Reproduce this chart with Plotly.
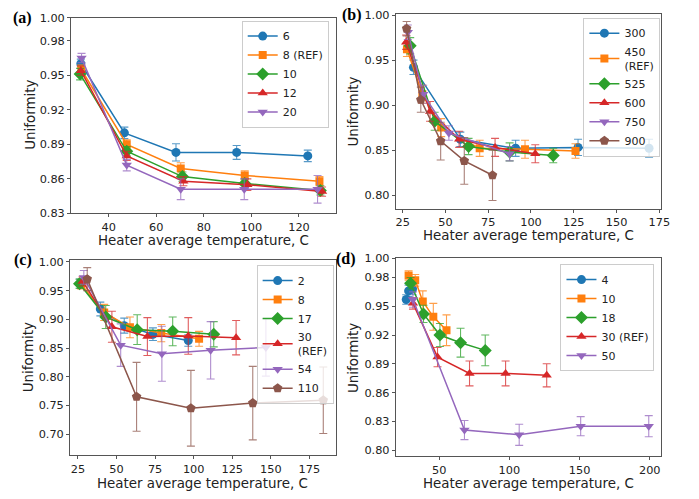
import plotly.graph_objects as go

# ---------------- Data ----------------
# Panel (a)
a_names = ["6", "8 (REF)", "10", "12", "20"]
a_x = [
    [28.3, 46.6, 68.3, 93.8, 123.7],
    [28.5, 47.6, 70.3, 97.2, 128.6],
    [28.0, 47.6, 71.0, 97.2, 129.0],
    [28.3, 47.6, 71.4, 98.3, 129.7],
    [28.6, 47.6, 70.3, 97.0, 127.8],
]
a_y = [
    [0.960, 0.900, 0.883, 0.883, 0.880],
    [0.955, 0.890, 0.869, 0.863, 0.858],
    [0.951, 0.884, 0.862, 0.856, 0.850],
    [0.954, 0.880, 0.858, 0.855, 0.849],
    [0.965, 0.872, 0.851, 0.851, 0.851],
]
a_e = [
    [0.004, 0.005, 0.0075, 0.006, 0.005],
    [0.004, 0.004, 0.005, 0.004, 0.004],
    [0.005, 0.004, 0.004, 0.004, 0.004],
    [0.004, 0.004, 0.004, 0.005, 0.004],
    [0.004, 0.005, 0.009, 0.009, 0.012],
]

# Panel (b)
b_names = ["300", "450<br>(REF)", "525", "600", "750", "900"]
b_x = [
    [31.3, 58.7, 91.0, 127.5, 169.0],
    [27.5, 36.5, 47.5, 70.0, 96.5, 126.0],
    [29.4, 43.7, 63.5, 87.5, 113.0],
    [27.0, 41.0, 58.0, 79.0, 102.5],
    [28.0, 37.0, 52.0, 87.5],
    [27.3, 35.6, 47.2, 61.0, 77.5],
]
b_y = [
    [0.942, 0.862, 0.852, 0.853, 0.852],
    [0.962, 0.912, 0.875, 0.852, 0.851, 0.849],
    [0.966, 0.882, 0.854, 0.848, 0.844],
    [0.970, 0.893, 0.862, 0.853, 0.846],
    [0.981, 0.912, 0.869, 0.846],
    [0.985, 0.906, 0.860, 0.838, 0.822],
]
b_e = [
    [0.008, 0.008, 0.009, 0.009, 0.010],
    [0.008, 0.010, 0.010, 0.009, 0.010, 0.008],
    [0.009, 0.010, 0.009, 0.010, 0.008],
    [0.008, 0.011, 0.009, 0.010, 0.010],
    [0.008, 0.010, 0.008, 0.008],
    [0.008, 0.014, 0.021, 0.026, 0.028],
]

# Panel (c)
c_names = ["2", "8", "17", "30<br>(REF)", "54", "110"]
c_x = [
    [26.5, 39.5, 55.0, 73.6, 96.5],
    [27.0, 42.0, 58.7, 79.0, 103.5],
    [26.0, 43.0, 63.4, 86.4, 113.0],
    [28.0, 47.0, 70.0, 96.5, 127.5],
    [28.8, 52.7, 79.4, 111.0, 146.8],
    [31.0, 63.0, 98.2, 138.3, 184.0],
]
c_y = [
    [0.962, 0.918, 0.889, 0.874, 0.863],
    [0.961, 0.912, 0.886, 0.876, 0.866],
    [0.962, 0.904, 0.882, 0.879, 0.874],
    [0.966, 0.887, 0.870, 0.871, 0.868],
    [0.973, 0.855, 0.840, 0.846, 0.851],
    [0.970, 0.765, 0.745, 0.754, 0.759],
]
c_e = [
    [0.008, 0.012, 0.013, 0.011, 0.010],
    [0.008, 0.014, 0.018, 0.015, 0.013],
    [0.008, 0.020, 0.026, 0.025, 0.022],
    [0.008, 0.027, 0.033, 0.032, 0.030],
    [0.012, 0.037, 0.048, 0.050, 0.050],
    [0.020, 0.060, 0.066, 0.064, 0.058],
]

# Panel (d)
d_names = ["4", "10", "18", "30 (REF)", "50"]
d_x = [
    [26.5, 28.2, 31.0],
    [28.2, 32.9, 38.3, 45.8, 55.2],
    [29.6, 38.8, 50.5, 65.2, 82.8],
    [31.3, 48.8, 71.6, 97.3, 126.6],
    [31.3, 68.0, 107.0, 150.8, 199.3],
]
d_y = [
    [0.957, 0.966, 0.968],
    [0.982, 0.977, 0.955, 0.939, 0.925],
    [0.974, 0.942, 0.920, 0.912, 0.904],
    [0.953, 0.897, 0.880, 0.880, 0.878],
    [0.957, 0.821, 0.816, 0.825, 0.825],
]
d_e = [
    [0.005, 0.006, 0.006],
    [0.005, 0.006, 0.011, 0.014, 0.016],
    [0.006, 0.009, 0.012, 0.015, 0.016],
    [0.006, 0.010, 0.013, 0.013, 0.012],
    [0.008, 0.010, 0.011, 0.010, 0.011],
]

a_yticks = [0.83, 0.86, 0.89, 0.92, 0.95, 0.98, 1.00]
b_yticks = [0.80, 0.85, 0.90, 0.95, 1.00]
c_yticks = [0.70, 0.75, 0.80, 0.85, 0.90, 0.95, 1.00]
d_yticks = [0.80, 0.83, 0.86, 0.89, 0.92, 0.95, 0.98, 1.00]
a_xticks = [40, 60, 80, 100, 120]
b_xticks = [25, 50, 75, 100, 125, 150, 175]
c_xticks = [25, 50, 75, 100, 125, 150, 175]
d_xticks = [50, 100, 150, 200]

x_title = "Heater average temperature, C"
y_title = "Uniformity"

# ---------------- Styling ----------------
colors = ["#1f77b4", "#ff7f0e", "#2ca02c", "#d62728", "#9467bd", "#8c564b"]
rgba = ["rgba(31,119,180,0.75)", "rgba(255,127,14,0.75)", "rgba(44,160,44,0.75)",
        "rgba(214,39,40,0.75)", "rgba(148,103,189,0.75)", "rgba(140,86,75,0.75)"]
symbols = ["circle", "square", "diamond", "triangle-up", "triangle-down", "pentagon"]
sizes = [9, 8, 10, 9, 9, 10]

fig = go.Figure()

panels = [
    (a_names, a_x, a_y, a_e, "x", "y", "legend"),
    (b_names, b_x, b_y, b_e, "x2", "y2", "legend2"),
    (c_names, c_x, c_y, c_e, "x3", "y3", "legend3"),
    (d_names, d_x, d_y, d_e, "x4", "y4", "legend4"),
]
for names, xs, ys, es, xa, ya, lg in panels:
    for i, nm in enumerate(names):
        fig.add_trace(go.Scatter(
            x=xs[i], y=ys[i], name=nm, mode="lines+markers",
            xaxis=xa, yaxis=ya, legend=lg,
            line=dict(color=colors[i], width=1.5),
            marker=dict(symbol=symbols[i], size=sizes[i], color=colors[i]),
            error_y=dict(type="data", array=es[i], color=rgba[i], thickness=1.1, width=4),
        ))

font = "DejaVu Sans"
axcol = "#555555"
tick_fs = 11.3
leg_fs = 11
title_fs = 13.4

def xax(domain, rng, ticks, anchor):
    return dict(domain=domain, range=rng, tickvals=ticks, anchor=anchor,
                showgrid=False, zeroline=False, showline=True, mirror=True,
                linecolor=axcol, linewidth=1, ticks="outside", ticklen=3,
                tickcolor=axcol, tickfont=dict(family=font, size=tick_fs, color="#222"))

def yax(domain, rng, ticks, anchor):
    return dict(domain=domain, range=rng, tickvals=ticks,
                ticktext=["%.2f" % t for t in ticks], anchor=anchor,
                showgrid=False, zeroline=False, showline=True, mirror=True,
                linecolor=axcol, linewidth=1, ticks="outside", ticklen=3,
                tickcolor=axcol, tickfont=dict(family=font, size=tick_fs, color="#222"))

def leg(x, y):
    return dict(x=x, y=y, xanchor="right", yanchor="top",
                bgcolor="rgba(255,255,255,0.8)", bordercolor="#cccccc", borderwidth=1,
                font=dict(family=font, size=leg_fs, color="#222"),
                tracegroupgap=0, itemwidth=30)

W, H = 699, 499
def dx(a, b):
    return [a / W, b / W]
def dy(top, bot):
    return [1 - bot / H, 1 - top / H]

fig.update_layout(
    width=W, height=H,
    margin=dict(l=0, r=0, t=0, b=0),
    paper_bgcolor="white", plot_bgcolor="white",
    showlegend=True,
    xaxis=xax(dx(72, 340), [24.2, 135.4], a_xticks, "y"),
    yaxis=yax(dy(12, 213), [0.83, 1.00], a_yticks, "x"),
    xaxis2=xax(dx(401, 670), [21.0, 176.2], b_xticks, "y2"),
    yaxis2=yax(dy(8, 208), [0.785, 1.0015], b_yticks, "x2"),
    xaxis3=xax(dx(71, 340), [19.9, 192.0], c_xticks, "y3"),
    yaxis3=yax(dy(261, 461), [0.6636, 1.003], c_yticks, "x3"),
    xaxis4=xax(dx(401, 670), [19.1, 208.3], d_xticks, "y4"),
    yaxis4=yax(dy(259, 462), [0.794, 1.0], d_yticks, "x4"),
    legend=leg(333 / W, 1 - 15 / H),
    legend2=leg(669 / W, 1 - 12 / H),
    legend3=leg(338 / W, 1 - 266 / H),
    legend4=leg(663 / W, 1 - 265 / H),
)

# axis titles (positioned in pixels)
xt_pos = [(206, 241), (535, 236), (205, 490), (535, 490)]
yt_pos = [(30, 112), (358, 108), (29, 361), (358, 361)]
for px, py in xt_pos:
    fig.add_annotation(text=x_title, x=px / W, y=1 - py / H, xref="paper", yref="paper",
                       showarrow=False, xanchor="center", yanchor="middle", borderpad=0,
                       font=dict(family=font, size=title_fs, color="#222"))
for px, py in yt_pos:
    fig.add_annotation(text=y_title, x=px / W, y=1 - py / H, xref="paper", yref="paper",
                       showarrow=False, xanchor="center", yanchor="middle", textangle=-90,
                       borderpad=0, font=dict(family=font, size=title_fs, color="#222"))

labels = [("(a)", 23, 12), ("(b)", 357, 9), ("(c)", 23, 261), ("(d)", 351, 260)]
for txt, px, py in labels:
    fig.add_annotation(text="<b>%s</b>" % txt, x=px / W, y=1 - py / H,
                       xref="paper", yref="paper", showarrow=False,
                       xanchor="center", yanchor="middle", borderpad=0,
                       font=dict(family="Liberation Serif", size=16, color="black"))

fig.write_html("out.html", config={"displayModeBar": False},
               post_script="document.body.style.margin='0';document.body.style.overflow='hidden';")
